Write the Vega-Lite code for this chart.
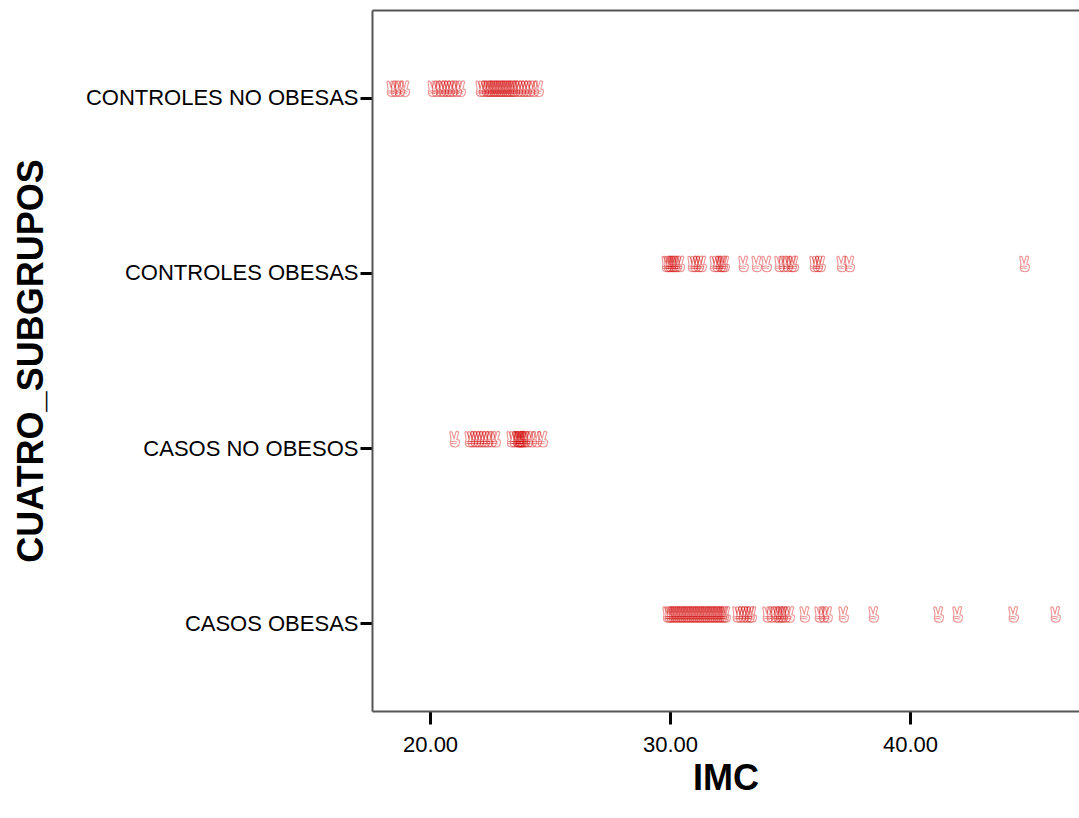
{
  "$schema": "https://vega.github.io/schema/vega-lite/v6.json",
  "autosize": {"type": "none"},
  "padding": {"left": 372, "top": 10, "right": 0, "bottom": 107},
  "width": 707,
  "height": 701,
  "background": "white",
  "config": {
    "view": {"stroke": null},
    "font": "Liberation Sans"
  },
  "data": {
    "values": [
      {"grupo": "CONTROLES NO OBESAS", "imc": 18.42},
      {"grupo": "CONTROLES NO OBESAS", "imc": 18.58},
      {"grupo": "CONTROLES NO OBESAS", "imc": 18.75},
      {"grupo": "CONTROLES NO OBESAS", "imc": 18.96},
      {"grupo": "CONTROLES NO OBESAS", "imc": 20.13},
      {"grupo": "CONTROLES NO OBESAS", "imc": 20.29},
      {"grupo": "CONTROLES NO OBESAS", "imc": 20.46},
      {"grupo": "CONTROLES NO OBESAS", "imc": 20.58},
      {"grupo": "CONTROLES NO OBESAS", "imc": 20.71},
      {"grupo": "CONTROLES NO OBESAS", "imc": 20.83},
      {"grupo": "CONTROLES NO OBESAS", "imc": 20.96},
      {"grupo": "CONTROLES NO OBESAS", "imc": 21.13},
      {"grupo": "CONTROLES NO OBESAS", "imc": 21.29},
      {"grupo": "CONTROLES NO OBESAS", "imc": 22.13},
      {"grupo": "CONTROLES NO OBESAS", "imc": 22.25},
      {"grupo": "CONTROLES NO OBESAS", "imc": 22.38},
      {"grupo": "CONTROLES NO OBESAS", "imc": 22.46},
      {"grupo": "CONTROLES NO OBESAS", "imc": 22.54},
      {"grupo": "CONTROLES NO OBESAS", "imc": 22.63},
      {"grupo": "CONTROLES NO OBESAS", "imc": 22.71},
      {"grupo": "CONTROLES NO OBESAS", "imc": 22.79},
      {"grupo": "CONTROLES NO OBESAS", "imc": 22.88},
      {"grupo": "CONTROLES NO OBESAS", "imc": 22.96},
      {"grupo": "CONTROLES NO OBESAS", "imc": 23.04},
      {"grupo": "CONTROLES NO OBESAS", "imc": 23.13},
      {"grupo": "CONTROLES NO OBESAS", "imc": 23.21},
      {"grupo": "CONTROLES NO OBESAS", "imc": 23.29},
      {"grupo": "CONTROLES NO OBESAS", "imc": 23.38},
      {"grupo": "CONTROLES NO OBESAS", "imc": 23.46},
      {"grupo": "CONTROLES NO OBESAS", "imc": 23.54},
      {"grupo": "CONTROLES NO OBESAS", "imc": 23.67},
      {"grupo": "CONTROLES NO OBESAS", "imc": 23.79},
      {"grupo": "CONTROLES NO OBESAS", "imc": 23.92},
      {"grupo": "CONTROLES NO OBESAS", "imc": 24.04},
      {"grupo": "CONTROLES NO OBESAS", "imc": 24.17},
      {"grupo": "CONTROLES NO OBESAS", "imc": 24.33},
      {"grupo": "CONTROLES NO OBESAS", "imc": 24.54},
      {"grupo": "CONTROLES OBESAS", "imc": 29.88},
      {"grupo": "CONTROLES OBESAS", "imc": 29.96},
      {"grupo": "CONTROLES OBESAS", "imc": 30.04},
      {"grupo": "CONTROLES OBESAS", "imc": 30.13},
      {"grupo": "CONTROLES OBESAS", "imc": 30.21},
      {"grupo": "CONTROLES OBESAS", "imc": 30.29},
      {"grupo": "CONTROLES OBESAS", "imc": 30.42},
      {"grupo": "CONTROLES OBESAS", "imc": 30.96},
      {"grupo": "CONTROLES OBESAS", "imc": 31.08},
      {"grupo": "CONTROLES OBESAS", "imc": 31.21},
      {"grupo": "CONTROLES OBESAS", "imc": 31.33},
      {"grupo": "CONTROLES OBESAS", "imc": 31.88},
      {"grupo": "CONTROLES OBESAS", "imc": 32.0},
      {"grupo": "CONTROLES OBESAS", "imc": 32.13},
      {"grupo": "CONTROLES OBESAS", "imc": 32.21},
      {"grupo": "CONTROLES OBESAS", "imc": 32.29},
      {"grupo": "CONTROLES OBESAS", "imc": 33.08},
      {"grupo": "CONTROLES OBESAS", "imc": 33.63},
      {"grupo": "CONTROLES OBESAS", "imc": 34.04},
      {"grupo": "CONTROLES OBESAS", "imc": 34.58},
      {"grupo": "CONTROLES OBESAS", "imc": 34.75},
      {"grupo": "CONTROLES OBESAS", "imc": 34.92},
      {"grupo": "CONTROLES OBESAS", "imc": 35.08},
      {"grupo": "CONTROLES OBESAS", "imc": 35.17},
      {"grupo": "CONTROLES OBESAS", "imc": 36.04},
      {"grupo": "CONTROLES OBESAS", "imc": 36.17},
      {"grupo": "CONTROLES OBESAS", "imc": 36.29},
      {"grupo": "CONTROLES OBESAS", "imc": 37.17},
      {"grupo": "CONTROLES OBESAS", "imc": 37.5},
      {"grupo": "CONTROLES OBESAS", "imc": 44.79},
      {"grupo": "CASOS NO OBESOS", "imc": 21.04},
      {"grupo": "CASOS NO OBESOS", "imc": 21.67},
      {"grupo": "CASOS NO OBESOS", "imc": 21.79},
      {"grupo": "CASOS NO OBESOS", "imc": 21.92},
      {"grupo": "CASOS NO OBESOS", "imc": 22.04},
      {"grupo": "CASOS NO OBESOS", "imc": 22.17},
      {"grupo": "CASOS NO OBESOS", "imc": 22.29},
      {"grupo": "CASOS NO OBESOS", "imc": 22.42},
      {"grupo": "CASOS NO OBESOS", "imc": 22.58},
      {"grupo": "CASOS NO OBESOS", "imc": 22.75},
      {"grupo": "CASOS NO OBESOS", "imc": 23.42},
      {"grupo": "CASOS NO OBESOS", "imc": 23.54},
      {"grupo": "CASOS NO OBESOS", "imc": 23.67},
      {"grupo": "CASOS NO OBESOS", "imc": 23.71},
      {"grupo": "CASOS NO OBESOS", "imc": 23.75},
      {"grupo": "CASOS NO OBESOS", "imc": 23.79},
      {"grupo": "CASOS NO OBESOS", "imc": 23.83},
      {"grupo": "CASOS NO OBESOS", "imc": 23.88},
      {"grupo": "CASOS NO OBESOS", "imc": 23.96},
      {"grupo": "CASOS NO OBESOS", "imc": 24.08},
      {"grupo": "CASOS NO OBESOS", "imc": 24.25},
      {"grupo": "CASOS NO OBESOS", "imc": 24.46},
      {"grupo": "CASOS NO OBESOS", "imc": 24.71},
      {"grupo": "CASOS OBESAS", "imc": 29.92},
      {"grupo": "CASOS OBESAS", "imc": 30.0},
      {"grupo": "CASOS OBESAS", "imc": 30.08},
      {"grupo": "CASOS OBESAS", "imc": 30.17},
      {"grupo": "CASOS OBESAS", "imc": 30.25},
      {"grupo": "CASOS OBESAS", "imc": 30.33},
      {"grupo": "CASOS OBESAS", "imc": 30.42},
      {"grupo": "CASOS OBESAS", "imc": 30.5},
      {"grupo": "CASOS OBESAS", "imc": 30.58},
      {"grupo": "CASOS OBESAS", "imc": 30.67},
      {"grupo": "CASOS OBESAS", "imc": 30.75},
      {"grupo": "CASOS OBESAS", "imc": 30.83},
      {"grupo": "CASOS OBESAS", "imc": 30.92},
      {"grupo": "CASOS OBESAS", "imc": 31.0},
      {"grupo": "CASOS OBESAS", "imc": 31.08},
      {"grupo": "CASOS OBESAS", "imc": 31.17},
      {"grupo": "CASOS OBESAS", "imc": 31.25},
      {"grupo": "CASOS OBESAS", "imc": 31.33},
      {"grupo": "CASOS OBESAS", "imc": 31.42},
      {"grupo": "CASOS OBESAS", "imc": 31.5},
      {"grupo": "CASOS OBESAS", "imc": 31.58},
      {"grupo": "CASOS OBESAS", "imc": 31.67},
      {"grupo": "CASOS OBESAS", "imc": 31.75},
      {"grupo": "CASOS OBESAS", "imc": 31.83},
      {"grupo": "CASOS OBESAS", "imc": 31.92},
      {"grupo": "CASOS OBESAS", "imc": 32.0},
      {"grupo": "CASOS OBESAS", "imc": 32.08},
      {"grupo": "CASOS OBESAS", "imc": 32.17},
      {"grupo": "CASOS OBESAS", "imc": 32.25},
      {"grupo": "CASOS OBESAS", "imc": 32.33},
      {"grupo": "CASOS OBESAS", "imc": 32.83},
      {"grupo": "CASOS OBESAS", "imc": 32.96},
      {"grupo": "CASOS OBESAS", "imc": 33.08},
      {"grupo": "CASOS OBESAS", "imc": 33.21},
      {"grupo": "CASOS OBESAS", "imc": 33.33},
      {"grupo": "CASOS OBESAS", "imc": 33.42},
      {"grupo": "CASOS OBESAS", "imc": 34.08},
      {"grupo": "CASOS OBESAS", "imc": 34.25},
      {"grupo": "CASOS OBESAS", "imc": 34.42},
      {"grupo": "CASOS OBESAS", "imc": 34.54},
      {"grupo": "CASOS OBESAS", "imc": 34.63},
      {"grupo": "CASOS OBESAS", "imc": 34.71},
      {"grupo": "CASOS OBESAS", "imc": 34.83},
      {"grupo": "CASOS OBESAS", "imc": 35.0},
      {"grupo": "CASOS OBESAS", "imc": 35.63},
      {"grupo": "CASOS OBESAS", "imc": 36.25},
      {"grupo": "CASOS OBESAS", "imc": 36.42},
      {"grupo": "CASOS OBESAS", "imc": 36.58},
      {"grupo": "CASOS OBESAS", "imc": 37.25},
      {"grupo": "CASOS OBESAS", "imc": 38.5},
      {"grupo": "CASOS OBESAS", "imc": 41.21},
      {"grupo": "CASOS OBESAS", "imc": 42.0},
      {"grupo": "CASOS OBESAS", "imc": 44.33},
      {"grupo": "CASOS OBESAS", "imc": 46.08}
    ]
  },
  "resolve": {"axis": {"x": "independent"}},
  "layer": [
    {
      "mark": {
        "type": "point",
        "shape": "M -0.5 -1.05 L -0.65 -1.95 Q -0.55 -2.15 -0.38 -2 L -0.12 -1.2 L 0.12 -2.05 Q 0.3 -2.18 0.45 -1.98 L 0.22 -1.1 L 0.5 -1 Q 0.62 -0.75 0.5 -0.5 Q 0.45 -0.15 0 -0.15 Q -0.6 -0.15 -0.6 -0.6 Q -0.6 -0.95 -0.5 -1.05 Z M -0.55 -0.8 Q -0.1 -0.95 0.3 -0.75 M -0.5 -0.55 Q -0.1 -0.7 0.2 -0.5",
        "size": 256,
        "filled": false,
        "stroke": "#d40000",
        "strokeWidth": 1.1,
        "strokeOpacity": 0.6
      },
      "encoding": {
        "x": {
          "field": "imc",
          "type": "quantitative",
          "scale": {"domain": [17.58, 47.04], "nice": false, "zero": false},
          "axis": {
            "title": "IMC",
            "orient": "bottom",
            "values": [20, 30, 40],
            "format": ".2f",
            "grid": false,
            "domainColor": "#555555",
            "domainWidth": 2,
            "tickColor": "#000000",
            "tickWidth": 3,
            "tickSize": 13,
            "labelFontSize": 22,
            "labelColor": "#000000",
            "labelPadding": 10,
            "titleFontSize": 36,
            "titleFontWeight": "bold",
            "titleColor": "#000000",
            "titlePadding": 6
          }
        },
        "y": {
          "field": "grupo",
          "type": "nominal",
          "sort": ["CONTROLES NO OBESAS", "CONTROLES OBESAS", "CASOS NO OBESOS", "CASOS OBESAS"],
          "scale": {"type": "point", "padding": 0.5},
          "axis": {
            "title": "CUATRO_SUBGRUPOS",
            "grid": false,
            "domainColor": "#555555",
            "domainWidth": 2,
            "tickColor": "#000000",
            "tickWidth": 3,
            "tickSize": 12,
            "labelFontSize": 22,
            "labelLimit": 400,
            "labelColor": "#000000",
            "labelPadding": 2,
            "titleFontSize": 36,
            "titleFontWeight": "bold",
            "titleColor": "#000000",
            "titleX": -322
          }
        }
      }
    },
    {
      "mark": {"type": "point", "opacity": 0},
      "encoding": {
        "x": {
          "field": "imc",
          "type": "quantitative",
          "axis": {
            "orient": "top",
            "title": null,
            "labels": false,
            "ticks": false,
            "grid": false,
            "domainColor": "#555555",
            "domainWidth": 2
          }
        }
      }
    }
  ]
}
